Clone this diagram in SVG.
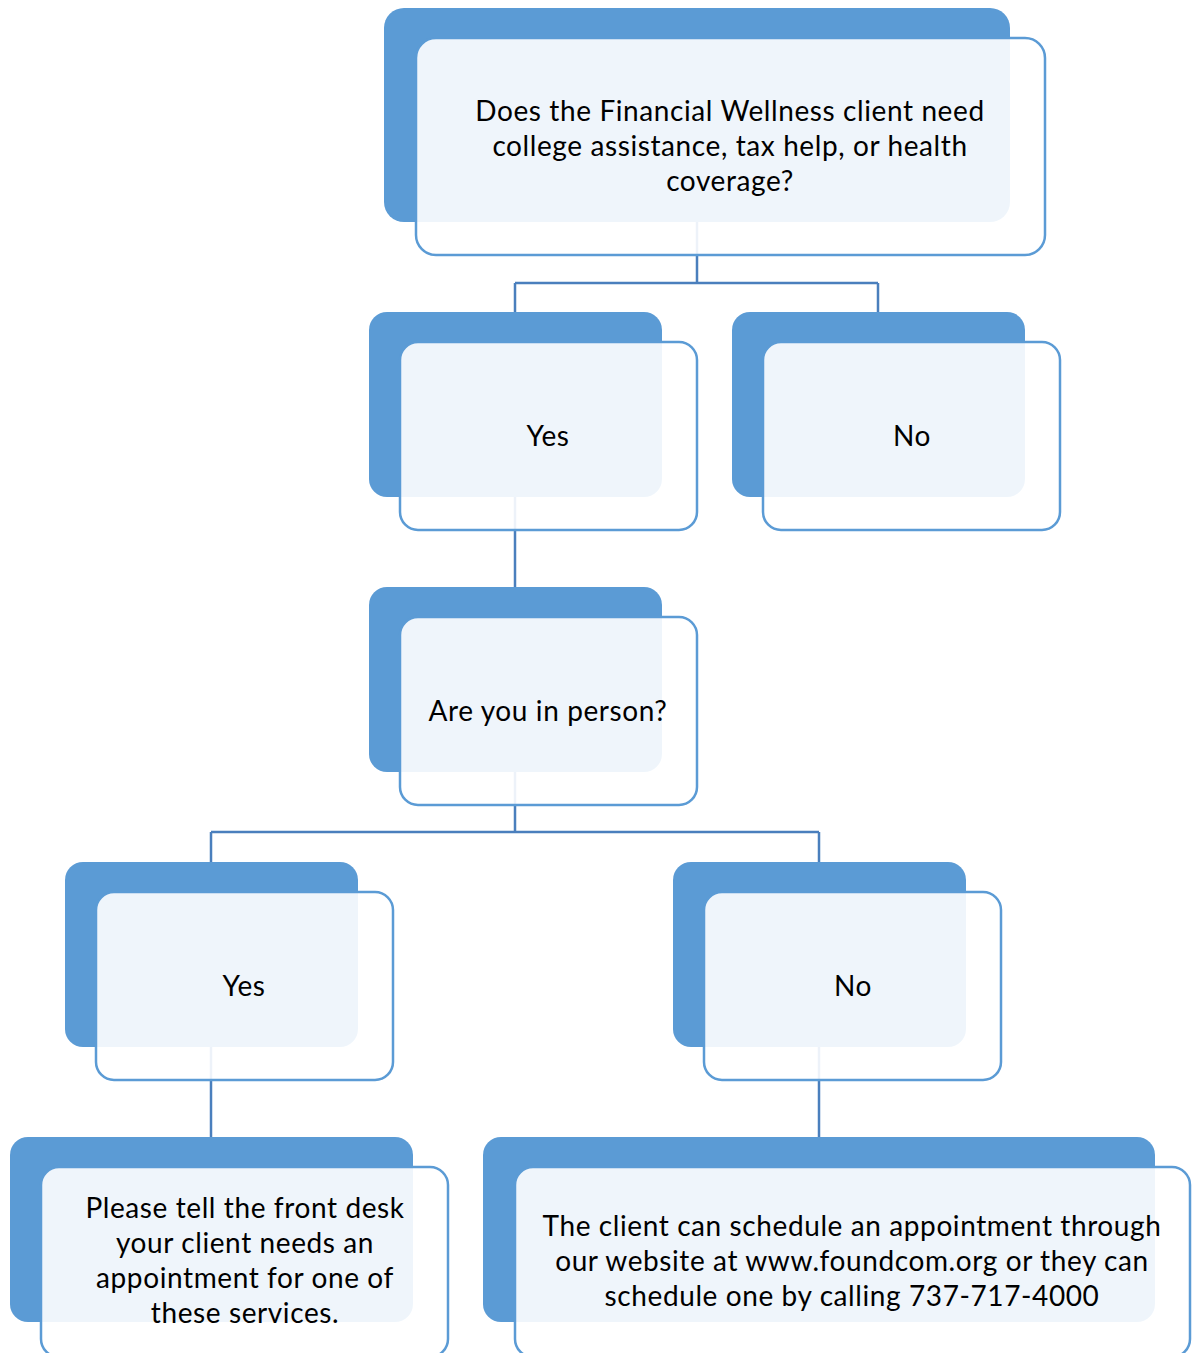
<svg xmlns="http://www.w3.org/2000/svg" width="1192" height="1353" viewBox="0 0 1192 1353">
<style>
.bk{fill:#5B9BD5}
.fr{fill:#ffffff;fill-opacity:0.9;stroke:#5B9BD5;stroke-width:2.5}
.cn{fill:none;stroke:#4A7FBD;stroke-width:2.5}
text{font-family:Lato,"Open Sans","Liberation Sans",sans-serif;font-size:28px;letter-spacing:0.6px;fill:#000;text-anchor:middle}
</style>
<rect width="1192" height="1353" fill="#ffffff"/>
<g id="connectors">
<path class="cn" d="M697,222 V283 M515,283 H878 M515,283 V312 M878,283 V312"/>
<path class="cn" d="M515,497 V587"/>
<path class="cn" d="M515,772 V832 M211,832 H819 M211,832 V862 M819,832 V862"/>
<path class="cn" d="M211,1047 V1137"/>
<path class="cn" d="M819,1047 V1137"/>
</g>
<g id="n-question">
<rect class="bk" x="384" y="8" width="626" height="214" rx="20"/>
<rect class="fr" x="416" y="38" width="629" height="217" rx="20"/>
<text x="730" y="121">Does the Financial Wellness client need</text>
<text x="730" y="156">college assistance, tax help, or health</text>
<text x="730" y="191">coverage?</text>
</g>
<g id="n-yes1">
<rect class="bk" x="369" y="312" width="293" height="185" rx="18"/>
<rect class="fr" x="400" y="342" width="297" height="188" rx="18"/>
<text x="548" y="446">Yes</text>
</g>
<g id="n-no1">
<rect class="bk" x="732" y="312" width="293" height="185" rx="18"/>
<rect class="fr" x="763" y="342" width="297" height="188" rx="18"/>
<text x="912" y="446">No</text>
</g>
<g id="n-inperson">
<rect class="bk" x="369" y="587" width="293" height="185" rx="18"/>
<rect class="fr" x="400" y="617" width="297" height="188" rx="18"/>
<text x="548" y="721">Are you in person?</text>
</g>
<g id="n-yes2">
<rect class="bk" x="65" y="862" width="293" height="185" rx="18"/>
<rect class="fr" x="96" y="892" width="297" height="188" rx="18"/>
<text x="244" y="996">Yes</text>
</g>
<g id="n-no2">
<rect class="bk" x="673" y="862" width="293" height="185" rx="18"/>
<rect class="fr" x="704" y="892" width="297" height="188" rx="18"/>
<text x="853" y="996">No</text>
</g>
<g id="n-frontdesk">
<rect class="bk" x="10" y="1137" width="403" height="185" rx="18"/>
<rect class="fr" x="41" y="1167" width="407" height="190" rx="18"/>
<text x="245" y="1218">Please tell the front desk</text>
<text x="245" y="1253">your client needs an</text>
<text x="245" y="1288">appointment for one of</text>
<text x="245" y="1323">these services.</text>
</g>
<g id="n-schedule">
<rect class="bk" x="483" y="1137" width="672" height="185" rx="18"/>
<rect class="fr" x="515" y="1167" width="675" height="190" rx="18"/>
<text x="852" y="1236">The client can schedule an appointment through</text>
<text x="852" y="1271">our website at www.foundcom.org or they can</text>
<text x="852" y="1306">schedule one by calling 737-717-4000</text>
</g>
</svg>
